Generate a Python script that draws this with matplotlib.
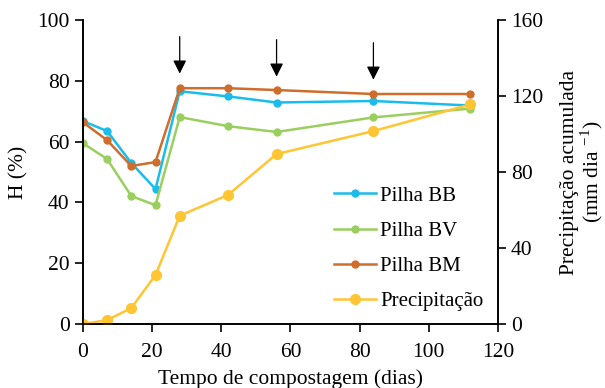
import numpy as np
import matplotlib.pyplot as plt

plt.rcParams['font.family'] = ['Liberation Serif', 'DejaVu Serif']
plt.rcParams['mathtext.fontset'] = 'custom'
plt.rcParams['mathtext.rm'] = 'Liberation Serif'
plt.rcParams['axes.unicode_minus'] = False

dias = [0, 7, 14, 21, 28, 42, 56, 84, 112]
pilha_bb = [66.8, 63.5, 53.0, 44.4, 76.6, 74.9, 72.9, 73.4, 71.9]
pilha_bv = [59.5, 54.3, 42.1, 39.1, 68.1, 65.1, 63.2, 68.0, 70.9]
pilha_bm = [66.4, 60.5, 52.0, 53.3, 77.6, 77.6, 77.0, 75.7, 75.7]
precip = [0, 2.0, 8.4, 25.8, 57.0, 68.0, 89.5, 101.6, 115.6]
dias_revolvimento = [28, 56, 84]

c_bb = '#1ABCEB'
c_bv = '#9ACF5F'
c_bm = '#CF6D2C'
c_pr = '#FFC533'

fig = plt.figure(figsize=(6.05, 3.88), dpi=100)
ax = fig.add_axes([0.137, 0.165, 0.686, 0.783])
ax2 = ax.twinx()

l1, = ax.plot(dias, pilha_bb, color=c_bb, marker='o', ms=5, lw=1.8, label='Pilha BB')
l2, = ax.plot(dias, pilha_bv, color=c_bv, marker='o', ms=5, lw=1.8, label='Pilha BV')
l3, = ax.plot(dias, pilha_bm, color=c_bm, marker='o', ms=5, lw=1.8, label='Pilha BM')
l4, = ax2.plot(dias, precip, color=c_pr, marker='o', ms=7, lw=1.8, label='Precipitação')

for i, d in enumerate(dias_revolvimento):
    ax.annotate('', xy=(d, 81.5 - i), xytext=(d, 95.5 - i),
                arrowprops=dict(arrowstyle='-|>', color='black', lw=0.9,
                                mutation_scale=20))

ax.set_xlim(0, 120)
ax.set_ylim(0, 100)
ax2.set_ylim(0, 160)
ax.set_xticks(np.arange(0, 121, 20))
ax.set_yticks(np.arange(0, 101, 20))
ax2.set_yticks(np.arange(0, 161, 40))

for a in (ax, ax2):
    a.spines['top'].set_visible(False)
    a.tick_params(labelsize=15.5, width=1.2, length=6, direction='out')
    for s in a.spines.values():
        s.set_linewidth(1.2)
ax.tick_params(axis='x', pad=8)

ax.set_xlabel('Tempo de compostagem (dias)', fontsize=15.5, labelpad=5)
ax.set_ylabel('H (%)', fontsize=15.5, labelpad=6)
ax2.set_ylabel('Precipitação acumulada\n(mm dia $^{\\mathrm{-1}}$)', fontsize=15.5,
               linespacing=0.95, labelpad=12)

ax.legend(handles=[l1, l2, l3, l4], loc='lower right', frameon=False,
          fontsize=15, bbox_to_anchor=(1.01, -0.02), handlelength=2.0,
          labelspacing=0.75, handletextpad=0.2)

fig.savefig('out.png')
